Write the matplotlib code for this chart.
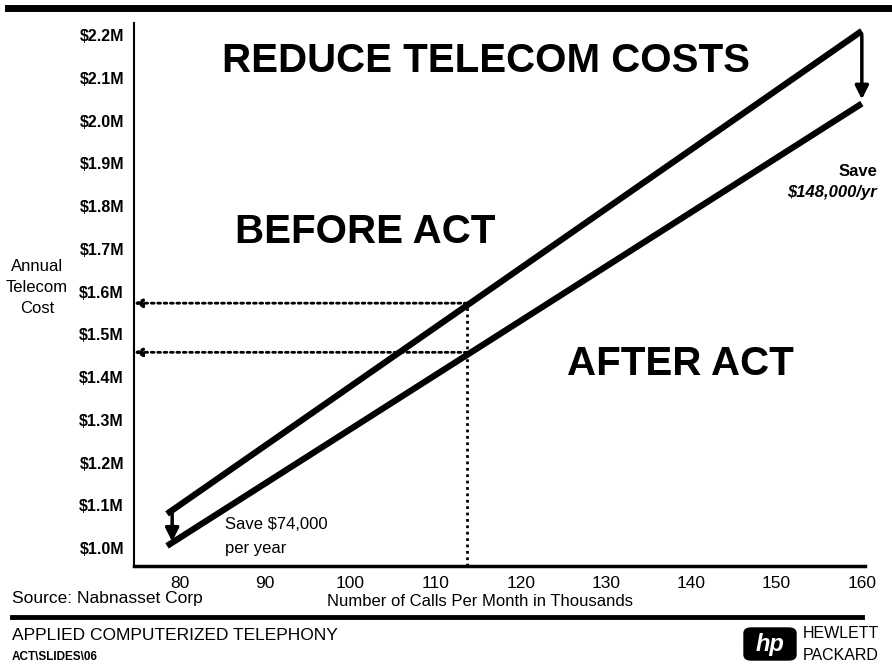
import matplotlib.pyplot as plt
from matplotlib.patches import FancyBboxPatch

plt.rcParams['font.family'] = ['Liberation Sans', 'DejaVu Sans']

# calls per month (thousands) and annual cost ($M)
calls = [78.5, 160]
cost_before = [1.08, 2.21]
cost_after = [1.005, 2.04]

y_ticks = [1.0, 1.1, 1.2, 1.3, 1.4, 1.5, 1.6, 1.7, 1.8, 1.9, 2.0, 2.1, 2.2]
y_labels = ['$%.1fM' % v for v in y_ticks]
x_ticks = [80, 90, 100, 110, 120, 130, 140, 150, 160]

mark_calls = 113.7
mark_before = 1.573
mark_after = 1.458

fig = plt.figure(figsize=(8.92, 6.64), dpi=100)
ax = fig.add_axes([0.150, 0.1476, 0.820, 0.8174])

ax.plot(calls, cost_before, color='black', lw=4.5, solid_capstyle='butt')
ax.plot(calls, cost_after, color='black', lw=4.5, solid_capstyle='butt')

ax.set_xlim(74.6, 160.4)
ax.set_ylim(0.958, 2.228)
ax.set_xticks(x_ticks)
ax.set_yticks(y_ticks)
ax.set_yticklabels(y_labels, fontweight='bold')
ax.tick_params(length=0, labelsize=11.5, pad=7)
ax.tick_params(axis='x', labelsize=12.5, pad=7)
for s in ['top', 'right']:
    ax.spines[s].set_visible(False)
ax.spines['left'].set_linewidth(1.5)
ax.spines['bottom'].set_linewidth(2.5)

# dotted guide lines and arrows
ax.plot([mark_calls, mark_calls], [0.958, mark_before], color='black', lw=2, ls=(0, (1, 1.3)))
for yv in [mark_before, mark_after]:
    ax.annotate('', xy=(74.6, yv), xytext=(mark_calls, yv),
                arrowprops=dict(arrowstyle='-|>', color='black', lw=2, ls=(0, (1, 1.3)),
                                mutation_scale=12, shrinkA=0, shrinkB=0))

# savings arrows
ax.annotate('', xy=(79.1, cost_after[0] + 0.01), xytext=(79.1, cost_before[0]),
            arrowprops=dict(arrowstyle='-|>', color='black', lw=2.5, mutation_scale=20,
                            shrinkA=0, shrinkB=0))
ax.annotate('', xy=(160, cost_after[1] + 0.01), xytext=(160, cost_before[1] - 0.01),
            arrowprops=dict(arrowstyle='-|>', color='black', lw=2.5, mutation_scale=20,
                            shrinkA=0, shrinkB=0))

ax.text(85.3, 1.055, 'Save $74,000', fontsize=12, va='center')
ax.text(85.3, 0.998, 'per year', fontsize=12, va='center')
ax.text(161.8, 1.88, 'Save', fontsize=12, ha='right', va='center', fontweight='bold')
ax.text(161.8, 1.833, '$148,000/yr', fontsize=12, ha='right', va='center',
        fontweight='bold', style='italic')

ax.text(115.9, 2.14, 'REDUCE TELECOM COSTS', fontsize=29, ha='center', va='center',
        fontweight='bold')
ax.text(101.8, 1.74, 'BEFORE ACT', fontsize=29, ha='center', va='center', fontweight='bold')
ax.text(138.7, 1.43, 'AFTER ACT', fontsize=29, ha='center', va='center', fontweight='bold')

fig.text(37 / 892, 1 - 287 / 664, 'Annual\nTelecom\nCost', fontsize=12, ha='center',
         va='center', linespacing=1.5)
fig.text(480 / 892, 1 - 602 / 664, 'Number of Calls Per Month in Thousands', fontsize=12,
         ha='center', va='center')
fig.text(12 / 892, 1 - 598 / 664, 'Source: Nabnasset Corp', fontsize=12.5, ha='left',
         va='center')

# header and footer rules
fig.add_artist(plt.Line2D([8 / 892, 1.0], [1 - 8 / 664, 1 - 8 / 664], color='black', lw=5))
fig.add_artist(plt.Line2D([12 / 892, 862 / 892], [1 - 617 / 664, 1 - 617 / 664],
                          color='black', lw=3.5))
fig.text(12 / 892, 1 - 636 / 664, 'APPLIED COMPUTERIZED TELEPHONY', fontsize=12.5,
         ha='left', va='center')
fig.text(12 / 892, 1 - 657 / 664, 'ACT\\SLIDES\\06', fontsize=8.5, ha='left', va='center',
         fontweight='bold')

# HP logo
logo = FancyBboxPatch((744 / 892, 1 - 660 / 664), 52 / 892, 32 / 664,
                      boxstyle='round,pad=0,rounding_size=0.008', transform=fig.transFigure,
                      facecolor='black', edgecolor='black')
fig.add_artist(logo)
fig.text(770 / 892, 1 - 644 / 664, 'hp', fontsize=17, color='white', ha='center',
         va='center', fontweight='bold', style='italic')
fig.text(803 / 892, 1 - 634 / 664, 'HEWLETT', fontsize=11.5, ha='left', va='center')
fig.text(803 / 892, 1 - 655 / 664, 'PACKARD', fontsize=11.5, ha='left', va='center')

fig.savefig('out.png', dpi=100)
